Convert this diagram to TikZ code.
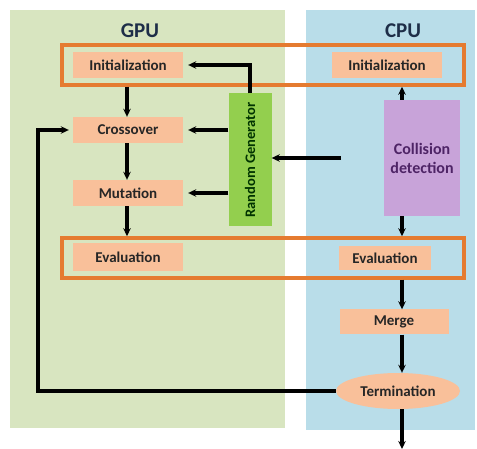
\documentclass[tikz,border=0pt]{standalone}
\usepackage{fontspec}
\setmainfont{Carlito}
\usetikzlibrary{arrows.meta,shapes.geometric,calc}
\definecolor{gpubg}{HTML}{D8E5C0}
\definecolor{cpubg}{HTML}{B9DDE9}
\definecolor{stepfill}{HTML}{F9C09A}
\definecolor{frameor}{HTML}{E57B30}
\definecolor{rgfill}{HTML}{93CF4E}
\definecolor{cdfill}{HTML}{C8A3D9}
\definecolor{cdtext}{HTML}{4E2466}
\definecolor{headtext}{HTML}{1E2E48}
\tikzset{
  stepbox/.style={rectangle, fill=stepfill, minimum width=110pt, minimum height=26pt,
    inner sep=0pt, font=\bfseries\fontsize{15}{17}\selectfont, text=black!85},
  groupframe/.style={draw=frameor, line width=3.5pt},
  flow/.style={-{Stealth[length=8pt,width=7.5pt]}, line width=3.2pt, black},
  head/.style={font=\bfseries\fontsize{21}{24}\selectfont, text=headtext}
}
\begin{document}
\begin{tikzpicture}[x=1pt,y=-1pt]
\useasboundingbox (0,0) rectangle (477,449);
\fill[white] (0,0) rectangle (477,449);
% background columns
\fill[gpubg] (10,10) rectangle (285,428);
\fill[cpubg] (306,10) rectangle (475,430);
\node[head] (gpu) at (140,31) {GPU};
\node[head] (cpu) at (403,31) {CPU};

% grouping frames
\node[groupframe, minimum width=402pt, minimum height=40pt, inner sep=0pt] (frameA) at (263,65) {};
\node[groupframe, minimum width=402pt, minimum height=40pt, inner sep=0pt] (frameB) at (263,258) {};

% GPU steps
\node[stepbox] (ginit) at (128,65) {Initialization};
\node[stepbox] (cross) at (128,130) {Crossover};
\node[stepbox] (mut) at (128,193) {Mutation};
\node[stepbox, minimum height=28pt] (geval) at (128,257) {Evaluation};

% CPU steps
\node[stepbox] (cinit) at (387,65) {Initialization};
\node[stepbox, minimum width=92pt, minimum height=24pt] (ceval) at (385,258) {Evaluation};
\node[stepbox, minimum width=109pt, minimum height=25pt] (merge) at (394,322) {Merge};
\node[stepbox, ellipse, minimum width=124pt, minimum height=36pt] (term) at (398,391) {Termination};

% random generator and collision detection
\node[rectangle, fill=rgfill, minimum width=43pt, minimum height=133pt, inner sep=0pt] (rg) at (250,160) {};
\node[rotate=90, font=\bfseries\fontsize{14.5}{16}\selectfont, text=black!80!green] (rgtext) at (rg.center) {Random Generator};
\node[rectangle, fill=cdfill, minimum width=76pt, minimum height=116pt, inner sep=0pt,
  align=center, font=\bfseries\fontsize{16}{19}\selectfont, text=cdtext] (cd) at (422,158) {Collision\\detection};

\coordinate (cx) at (402,0);
\coordinate (gx) at (127,0);
\coordinate (src) at (341,158);
\coordinate (fb) at (38,0);
\coordinate (out) at (402,449);

% GPU chain
\draw[flow] (gx |- frameA.south) -- (gx |- cross.north);
\draw[flow] (gx |- cross.south) -- (gx |- mut.north);
\draw[flow] (gx |- mut.south) -- (gx |- frameB.north);

% random generator feeds
\draw[flow] (rg.north) -- (rg.north |- ginit.east) -- ([xshift=5pt]ginit.east);
\draw[flow] (rg.west |- cross.east) -- ([xshift=5pt]cross.east);
\draw[flow] (rg.west |- mut.east) -- ([xshift=5pt]mut.east);
\draw[flow] (src) -- (rg.east |- src);

% CPU chain
\draw[flow] (cx |- cd.north) -- (cx |- frameA.south);
\draw[flow] (cx |- cd.south) -- (cx |- frameB.north);
\draw[flow] (cx |- frameB.south) -- (cx |- merge.north);
\draw[flow] (cx |- merge.south) -- (cx |- term.north);
\draw[flow] (cx |- term.south) -- (out);

% loop back to crossover
\draw[flow] (term.west) -- (fb |- term.west) -- (fb |- cross.west) -- ([xshift=-4pt]cross.west);
\end{tikzpicture}
\end{document}
